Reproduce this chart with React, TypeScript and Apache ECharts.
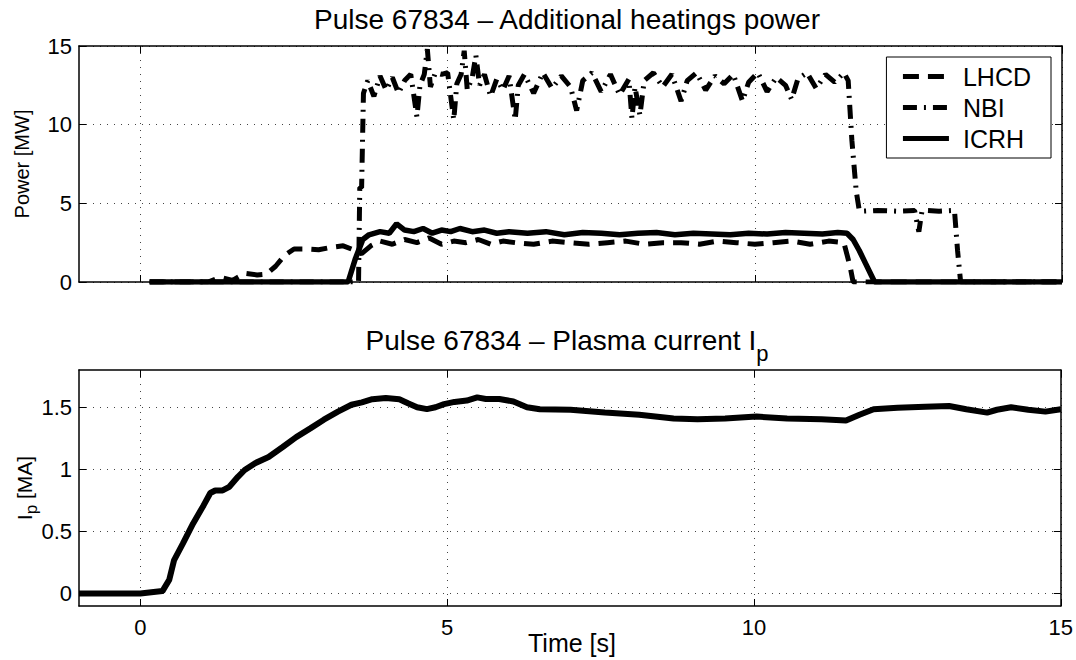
import React, { useEffect, useRef } from "react";
import * as echarts from "echarts";

// ---------- data ----------
const xTicks = [0, 5, 10, 15];
const powerTicks = [0, 5, 10, 15];
const ipTicks = [0, 0.5, 1, 1.5];

const lhcdT = [0.15, 1.1, 1.3, 1.5, 1.7, 1.9, 2.05, 2.2, 2.35, 2.5, 2.7, 2.9, 3.1, 3.3, 3.5, 3.6, 3.75, 3.9, 4.1, 4.3, 4.5, 4.7, 4.9, 5.1, 5.3, 5.5, 5.7, 5.9, 6.1, 6.4, 6.7, 7.0, 7.3, 7.6, 7.9, 8.2, 8.5, 8.8, 9.1, 9.4, 9.7, 10.0, 10.3, 10.6, 10.9, 11.2, 11.45, 11.55, 11.6, 15];
const lhcdP = [0, 0, 0.3, 0.1, 0.55, 0.45, 0.5, 1.0, 1.7, 2.1, 2.1, 2.05, 2.2, 2.3, 2.0, 1.8, 2.3, 2.6, 2.4, 2.7, 2.5, 2.8, 2.4, 2.6, 2.5, 2.7, 2.4, 2.6, 2.5, 2.4, 2.6, 2.5, 2.4, 2.5, 2.6, 2.4, 2.5, 2.5, 2.4, 2.6, 2.5, 2.4, 2.5, 2.6, 2.4, 2.6, 2.5, 1.0, 0, 0];

const nbiT = [0.15, 3.55, 3.57, 3.6, 3.63, 3.7, 3.8, 3.9, 4.0, 4.1, 4.2, 4.3, 4.4, 4.5, 4.55, 4.62, 4.67, 4.72, 4.8, 4.9, 5.0, 5.1, 5.15, 5.22, 5.27, 5.32, 5.4, 5.46, 5.52, 5.6, 5.7, 5.8, 5.9, 6.0, 6.1, 6.15, 6.25, 6.4, 6.55, 6.7, 6.85, 7.0, 7.1, 7.2, 7.35, 7.5, 7.65, 7.8, 7.95, 8.0, 8.05, 8.13, 8.2, 8.35, 8.5, 8.65, 8.8, 8.9, 9.05, 9.2, 9.35, 9.5, 9.65, 9.8, 9.9, 10.05, 10.2, 10.35, 10.5, 10.6, 10.7, 10.85, 11.0, 11.15, 11.3, 11.45, 11.52, 11.58, 11.65, 11.7, 11.75, 12.0, 12.3, 12.6, 12.67, 12.72, 12.8, 13.0, 13.25, 13.3, 13.35, 15];
const nbiP = [0, 0, 6, 6, 12, 12.8, 11.8, 13.1, 12.2, 13.0, 12.0, 12.8, 13.2, 10.5, 12.5, 13.2, 14.8, 12.4, 13.3, 13.2, 13.3, 10.3, 12.6, 13.2, 14.7, 12.2, 13.0, 14.4, 12.5, 13.2, 11.8, 12.9, 12.2, 13.1, 10.3, 12.5, 13.2, 12.0, 13.3, 12.3, 13.1, 12.4, 10.9, 12.8, 13.3, 12.1, 13.2, 11.9, 12.9, 10.4, 12.4, 10.6, 12.8, 13.3, 12.4, 13.2, 11.5, 12.8, 13.3, 12.2, 13.1, 12.6, 13.2, 11.5, 12.7, 13.3, 12.1, 13.0, 12.5, 11.6, 12.9, 13.3, 12.3, 13.2, 12.7, 13.3, 12.8, 9, 5.8, 4.55, 4.5, 4.55, 4.5, 4.55, 3.2, 4.5, 4.55, 4.5, 4.55, 2, 0, 0];

const icrhT = [0.15, 3.38, 3.5, 3.62, 3.72, 3.9, 4.05, 4.17, 4.3, 4.45, 4.6, 4.75, 4.9, 5.05, 5.2, 5.4, 5.6, 5.8, 6.0, 6.3, 6.6, 6.9, 7.2, 7.5, 7.8, 8.1, 8.4, 8.7, 9.0, 9.3, 9.6, 9.9, 10.2, 10.5, 10.8, 11.1, 11.35, 11.5, 11.6, 11.7, 11.8, 11.9, 11.95, 15];
const icrhP = [0, 0, 1.5, 2.7, 3.0, 3.2, 3.1, 3.7, 3.3, 3.2, 3.4, 3.1, 3.3, 3.2, 3.4, 3.2, 3.3, 3.1, 3.2, 3.1, 3.2, 3.0, 3.15, 3.1, 3.0, 3.1, 3.15, 3.0, 3.1, 3.05, 3.0, 3.1, 3.05, 3.15, 3.1, 3.05, 3.15, 3.1, 2.7, 2.0, 1.2, 0.4, 0, 0];

const ipT = [-1, 0, 0.36, 0.47, 0.55, 0.69, 0.86, 1.03, 1.14, 1.22, 1.34, 1.45, 1.59, 1.7, 1.87, 2.09, 2.32, 2.54, 2.77, 2.99, 3.22, 3.44, 3.61, 3.78, 4.0, 4.22, 4.37, 4.51, 4.67, 4.81, 4.95, 5.12, 5.32, 5.49, 5.63, 5.85, 6.08, 6.3, 6.51, 7.01, 7.57, 8.13, 8.69, 9.08, 9.53, 10.04, 10.54, 11.1, 11.5, 11.72, 11.95, 12.34, 12.79, 13.18, 13.46, 13.8, 13.96, 14.19, 14.47, 14.75, 15];
const ipV = [0, 0, 0.02, 0.11, 0.27, 0.4, 0.565, 0.71, 0.81, 0.83, 0.83, 0.86, 0.94, 0.995, 1.05, 1.1, 1.18, 1.26, 1.33, 1.4, 1.465, 1.52, 1.54, 1.565, 1.575, 1.565, 1.53, 1.5, 1.485, 1.5, 1.525, 1.543, 1.554, 1.58, 1.567, 1.567, 1.546, 1.5, 1.484, 1.48, 1.457, 1.44, 1.41, 1.403, 1.41, 1.425, 1.41, 1.403, 1.393, 1.44, 1.484, 1.497, 1.505, 1.51, 1.484, 1.457, 1.48, 1.5, 1.48, 1.465, 1.484];

const zip = (a: number[], b: number[]) => a.map((v, i) => [v, b[i]]);

const FONT = "Liberation Sans, Arial, Helvetica, sans-serif";

export default function App() {
  const ref = useRef<HTMLDivElement>(null);
  useEffect(() => {
    if (!ref.current) return;
    const chart = echarts.init(ref.current, undefined, { renderer: "svg" });
    const L = 79, R = 14;
    const grids = [
      { left: L, right: R, top: 46, height: 236 },
      { left: L, right: R, top: 370, height: 236 },
    ];
    const axisLine = { show: true, onZero: false, lineStyle: { color: "#000", width: 1.5 } };
    const split = { show: true, lineStyle: { color: "#444", width: 1, type: [1, 6] } };
    const mkX = (g: number, pos: string, labels: boolean, grid: boolean) => ({
      type: "value", gridIndex: g, position: pos, min: -1, max: 15,
      axisLine, axisTick: { show: true, inside: true, length: 7, customValues: xTicks, lineStyle: { color: "#000", width: 1 } },
      axisLabel: { show: labels, customValues: xTicks, fontSize: 22, color: "#000", fontFamily: FONT, margin: 10 },
      splitLine: grid ? split : { show: false },
    });
    const mkY = (g: number, pos: string, labels: boolean, grid: boolean, min: number, max: number, ticks: number[]) => ({
      type: "value", gridIndex: g, position: pos, min, max,
      axisLine, axisTick: { show: true, inside: true, length: 7, customValues: ticks, lineStyle: { color: "#000", width: 1 } },
      axisLabel: { show: labels, customValues: ticks, fontSize: 22, color: "#000", fontFamily: FONT, margin: 7 },
      splitLine: grid ? split : { show: false },
    });
    const base = { type: "line", showSymbol: false, symbol: "none", silent: true, itemStyle: { color: "#000" } };
    chart.setOption({
      animation: false,
      backgroundColor: "#fff",
      grid: grids,
      xAxis: [mkX(0, "bottom", false, true), mkX(0, "top", false, false), mkX(1, "bottom", true, true), mkX(1, "top", false, false)],
      yAxis: [
        mkY(0, "left", true, true, 0, 15, powerTicks), mkY(0, "right", false, false, 0, 15, powerTicks),
        mkY(1, "left", true, true, -0.1, 1.8, ipTicks), mkY(1, "right", false, false, -0.1, 1.8, ipTicks),
      ],
      legend: {
        data: ["LHCD", "NBI", "ICRH"], orient: "vertical", right: 25, top: 57,
        itemWidth: 46, itemHeight: 14, itemGap: 6, padding: [7, 20, 7, 14],
        borderColor: "#000", borderWidth: 1, backgroundColor: "#fff", borderRadius: 0,
        itemStyle: { opacity: 0 },
        lineStyle: { width: 5, color: "#000" },
        textStyle: { fontSize: 25, color: "#000", fontFamily: FONT, padding: [0, 0, 0, 9] },
        selectedMode: false,
      },
      series: [
        { ...base, name: "LHCD", xAxisIndex: 0, yAxisIndex: 0, data: zip(lhcdT, lhcdP), lineStyle: { color: "#000", width: 5, type: [16, 9] } },
        { ...base, name: "NBI", xAxisIndex: 0, yAxisIndex: 0, data: zip(nbiT, nbiP), lineStyle: { color: "#000", width: 5, type: [14, 7, 2, 7] } },
        { ...base, name: "ICRH", xAxisIndex: 0, yAxisIndex: 0, data: zip(icrhT, icrhP), lineStyle: { color: "#000", width: 5.5, type: "solid" } },
        { ...base, name: "Ip", xAxisIndex: 2, yAxisIndex: 2, data: zip(ipT, ipV), lineStyle: { color: "#000", width: 6, type: "solid" } },
      ],
      graphic: [
        { type: "text", x: 567, y: 19, style: { text: "Pulse 67834 – Additional heatings power", font: `28px ${FONT}`, fill: "#000", textAlign: "center", textVerticalAlign: "middle" } },
        {
          type: "text", x: 567, y: 340,
          style: {
            text: "{a|Pulse 67834 – Plasma current I}{b|p}", fill: "#000", textAlign: "center", textVerticalAlign: "middle",
            rich: { a: { fontSize: 28, fontFamily: FONT, lineHeight: 48, verticalAlign: "middle" }, b: { fontSize: 22, fontFamily: FONT, lineHeight: 18, verticalAlign: "bottom" } },
          },
        },
        { type: "text", x: 22, y: 164, rotation: Math.PI / 2, style: { text: "Power [MW]", font: `20px ${FONT}`, fill: "#000", textAlign: "center", textVerticalAlign: "middle" } },
        {
          type: "text", x: 24, y: 488, rotation: Math.PI / 2,
          style: {
            text: "{a|I}{b|p}{a| [MA]}", fill: "#000", textAlign: "center", textVerticalAlign: "middle",
            rich: { a: { fontSize: 21, fontFamily: FONT, lineHeight: 32, verticalAlign: "middle" }, b: { fontSize: 17, fontFamily: FONT, lineHeight: 12, verticalAlign: "bottom" } },
          },
        },
        { type: "text", x: 572, y: 643, style: { text: "Time [s]", font: `25px ${FONT}`, fill: "#000", textAlign: "center", textVerticalAlign: "middle" } },
      ],
    });
    return () => chart.dispose();
  }, []);
  return <div ref={ref} style={{ width: 1076, height: 660, position: "absolute", left: 0, top: 0 }} />;
}
